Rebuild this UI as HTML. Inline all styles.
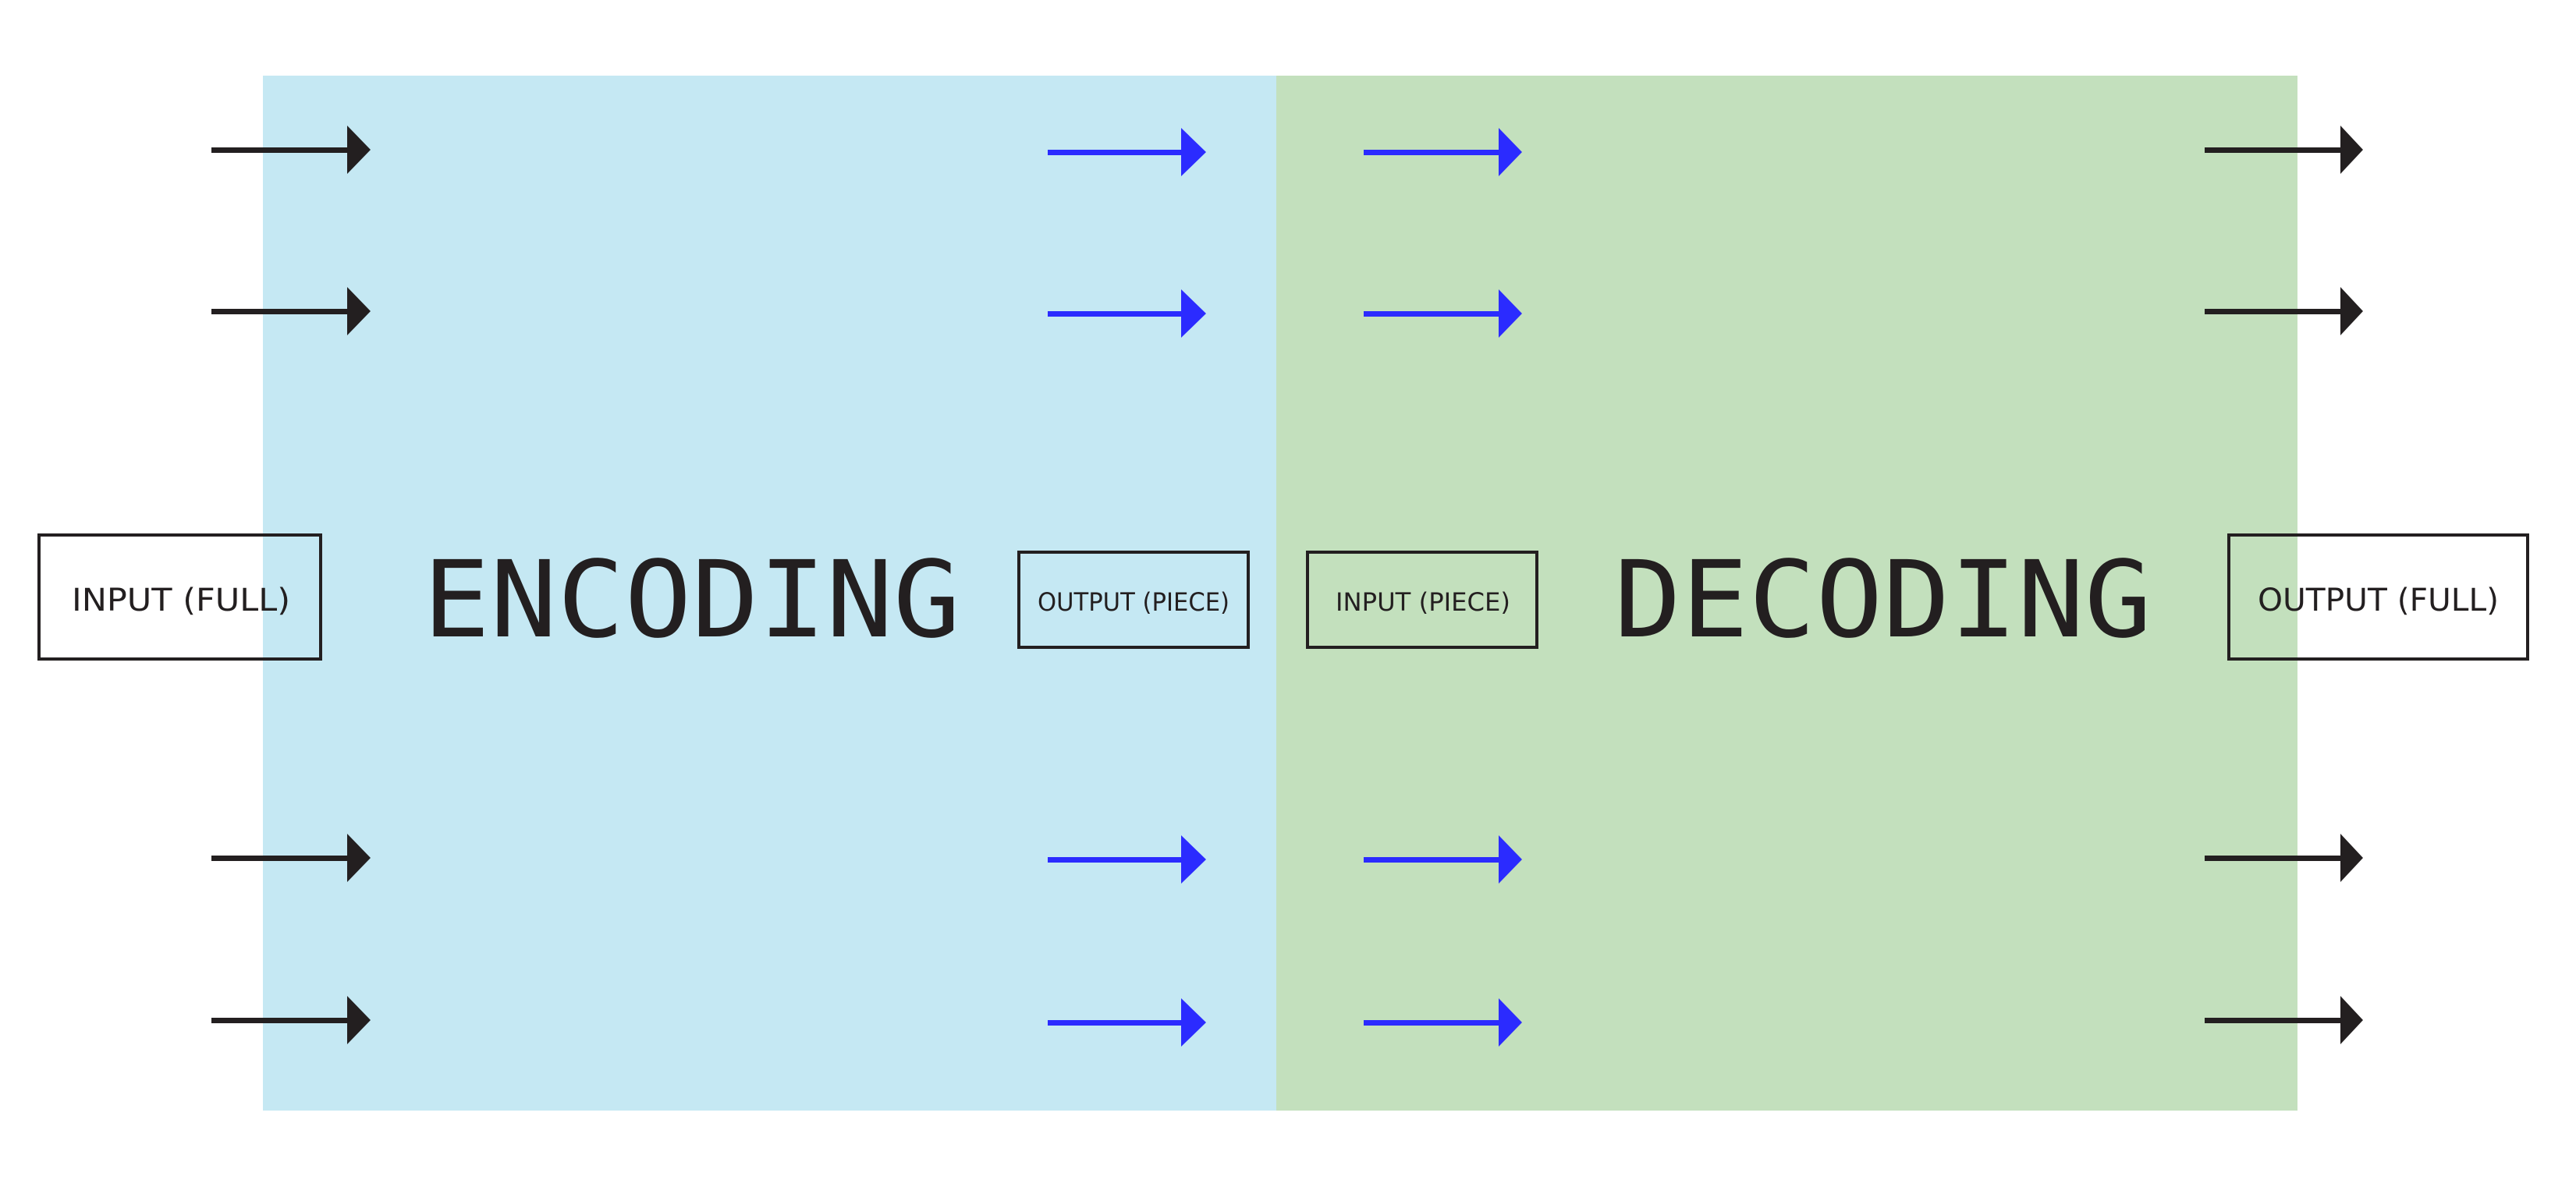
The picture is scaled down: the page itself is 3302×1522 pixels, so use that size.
<!DOCTYPE html>
<html><head><meta charset="utf-8"><style>
html,body{margin:0;padding:0;background:#fff;}
svg{display:block;}
</style></head><body>
<svg width="3302" height="1522" viewBox="0 0 3302 1522" xmlns="http://www.w3.org/2000/svg">
<rect x="0" y="0" width="3302" height="1522" fill="#fff"/>
<rect x="337" y="97" width="1299" height="1327" fill="#c5e8f3"/>
<rect x="1636" y="97" width="1309" height="1327" fill="#c3e0bd"/>
<g id="arrows">
<!-- black left -->
<g fill="#231f20" stroke="none">
<rect x="271" y="189" width="176" height="7"/><polygon points="445,161 475,192 445,223"/>
<rect x="271" y="396" width="176" height="7"/><polygon points="445,368 475,399 445,430"/>
<rect x="271" y="1097" width="176" height="7"/><polygon points="445,1069 475,1100 445,1131"/>
<rect x="271" y="1305" width="176" height="7"/><polygon points="445,1277 475,1308 445,1339"/>
<rect x="2826" y="189" width="176" height="7"/><polygon points="3000,161 3029,192 3000,223"/>
<rect x="2826" y="396" width="176" height="7"/><polygon points="3000,368 3029,399 3000,430"/>
<rect x="2826" y="1097" width="176" height="7"/><polygon points="3000,1069 3029,1100 3000,1131"/>
<rect x="2826" y="1305" width="176" height="7"/><polygon points="3000,1277 3029,1308 3000,1339"/>
</g>
<g fill="#2b2bff">
<rect x="1343" y="192" width="173" height="7"/><polygon points="1514,164 1546,195 1514,226"/>
<rect x="1343" y="399" width="173" height="7"/><polygon points="1514,371 1546,402 1514,433"/>
<rect x="1343" y="1099" width="173" height="7"/><polygon points="1514,1071 1546,1102 1514,1133"/>
<rect x="1343" y="1308" width="173" height="7"/><polygon points="1514,1280 1546,1311 1514,1342"/>
<rect x="1748" y="192" width="175" height="7"/><polygon points="1921,164 1951,195 1921,226"/>
<rect x="1748" y="399" width="175" height="7"/><polygon points="1921,371 1951,402 1921,433"/>
<rect x="1748" y="1099" width="175" height="7"/><polygon points="1921,1071 1951,1102 1921,1133"/>
<rect x="1748" y="1308" width="175" height="7"/><polygon points="1921,1280 1951,1311 1921,1342"/>
</g>
</g>
<g fill="none" stroke="#231f20" stroke-width="4">
<rect x="50" y="686" width="361" height="159"/>
<rect x="1306" y="708" width="294" height="122"/>
<rect x="1676" y="708" width="294" height="122"/>
<rect x="2857" y="686" width="383" height="159"/>
</g>
<g fill="#231f20" font-family="'DejaVu Sans Mono','Liberation Mono',monospace">
<text x="542" y="816" font-size="136" textLength="689" lengthAdjust="spacingAndGlyphs">ENCODING</text>
<text x="2069" y="816" font-size="136" textLength="689" lengthAdjust="spacingAndGlyphs">DECODING</text>
</g>
<g fill="#231f20" font-family="'DejaVu Sans','Liberation Sans',sans-serif">
<text x="92" y="783" font-size="40" textLength="280" lengthAdjust="spacingAndGlyphs">INPUT  (FULL)</text>
<text x="1330" y="783" font-size="32" textLength="246" lengthAdjust="spacingAndGlyphs">OUTPUT  (PIECE)</text>
<text x="1712" y="783" font-size="32" textLength="224" lengthAdjust="spacingAndGlyphs">INPUT  (PIECE)</text>
<text x="2894" y="783" font-size="40" textLength="309" lengthAdjust="spacingAndGlyphs">OUTPUT  (FULL)</text>
</g>
</svg>
</body></html>
